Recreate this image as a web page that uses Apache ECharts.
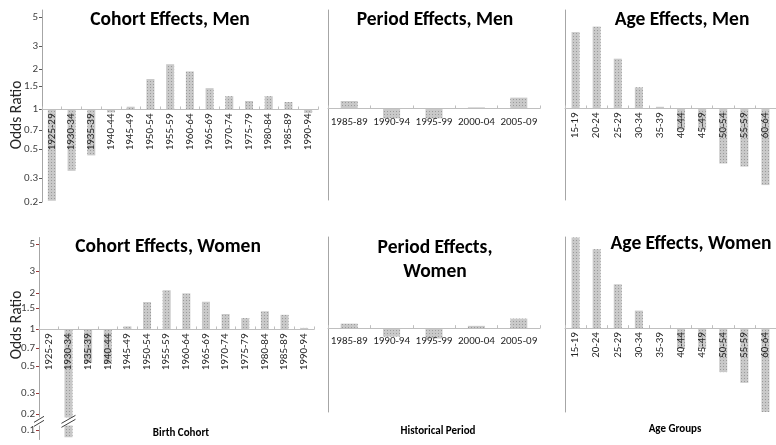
<!DOCTYPE html>
<html>
<head>
<meta charset="utf-8">
<script src="https://cdn.jsdelivr.net/npm/echarts@6/dist/echarts.min.js"></script>
<style>
  html, body { margin: 0; padding: 0; background: #ffffff; }
  #chart { width: 776px; height: 445px; }
</style>
</head>
<body>
<div id="chart"></div>
<script>
// Odds ratios by birth cohort, historical period and age group
const cohortGroups = ['1925-29', '1930-34', '1935-39', '1940-44', '1945-49', '1950-54', '1955-59',
  '1960-64', '1965-69', '1970-74', '1975-79', '1980-84', '1985-89', '1990-94'];
const cohortMen = [0.204, 0.344, 0.45, 0.95, 1.05, 1.70, 2.20, 1.94, 1.45, 1.26, 1.16, 1.26, 1.14, 0.94];
const cohortWomen = [0.99, 0.088, 0.53, 0.52, 1.06, 1.68, 2.10, 1.98, 1.69, 1.34, 1.24, 1.41, 1.32, 1.03];

const periodGroups = ['1985-89', '1990-94', '1995-99', '2000-04', '2005-09'];
const periodMen = [1.14, 0.84, 0.84, 1.02, 1.21];
const periodWomen = [1.09, 0.85, 0.82, 1.045, 1.20];

const ageGroups = ['15-19', '20-24', '25-29', '30-34', '35-39', '40-44', '45-49', '50-54', '55-59', '60-64'];
const ageMen = [3.83, 4.22, 2.40, 1.45, 1.03, 0.69, 0.69, 0.38, 0.36, 0.26];
const ageWomen = [5.7, 4.55, 2.32, 1.40, 1.0, 0.67, 0.67, 0.43, 0.35, 0.20];

const oddsTicksMen = [0.2, 0.3, 0.5, 0.7, 1, 1.5, 2, 3, 5];
const oddsTicksWomen = [0.1, 0.2, 0.3, 0.5, 0.7, 1, 1.5, 2, 3, 5];

const FONT = "Carlito, 'Liberation Sans Narrow', sans-serif";
const lg = v => Math.log10(v);

// bars sit on an odds ratio of 1 (log 0) and rise or hang on a log scale
const panels = [
  { grid: { left: 42, top: 10, width: 276, height: 192 }, cats: cohortGroups, vals: cohortMen,
    range: [0.2, 5.65], ticks: oddsTicksMen, tickColor: '#595959', barWidth: 8, rotate: 90 },
  { grid: { left: 328, top: 10, width: 212, height: 190 }, cats: periodGroups, vals: periodMen,
    range: [0.2, 5.65], barWidth: 17, rotate: 0 },
  { grid: { left: 565, top: 10, width: 211, height: 190 }, cats: ageGroups, vals: ageMen,
    range: [0.2, 5.65], barWidth: 8, rotate: 90 },
  { grid: { left: 39, top: 237, width: 275, height: 202 }, cats: cohortGroups, vals: cohortWomen,
    range: [0.085, 5.75], ticks: oddsTicksWomen, tickColor: '#9b3a3a', barWidth: 8, rotate: 90,
    cut: [0.11, 0.19] },
  { grid: { left: 328, top: 237, width: 212, height: 175 }, cats: periodGroups, vals: periodWomen,
    range: [0.2, 5.75], barWidth: 17, rotate: 0 },
  { grid: { left: 565, top: 237, width: 211, height: 175 }, cats: ageGroups, vals: ageWomen,
    range: [0.2, 5.75], barWidth: 8, rotate: 90 }
];

const barStyle = {
  color: '#c9c9c9',
  decal: { symbol: 'rect', symbolSize: 1, color: '#9a9a9a', dashArrayX: [1, 2], dashArrayY: [1, 2] }
};

const grids = [], xAxes = [], yAxes = [], series = [];
panels.forEach((p, i) => {
  grids.push(Object.assign({ outerBoundsMode: 'none', containLabel: false }, p.grid));
  xAxes.push({
    type: 'category', gridIndex: i, data: p.cats, z: 5, position: 'bottom',
    axisLine: { onZero: false, lineStyle: { color: '#bfbfbf', width: 1 } },
    axisTick: { show: true, inside: true, length: 3, lineStyle: { color: '#bfbfbf' } },
    axisLabel: {
      rotate: p.rotate, margin: p.rotate ? 4 : 8, interval: 0,
      fontFamily: FONT, fontSize: 11, color: '#262626'
    },
    splitLine: { show: false }
  });
  const y = {
    type: 'value', gridIndex: i, min: lg(p.range[0]), max: lg(p.range[1]),
    splitLine: { show: false },
    axisLine: { show: true, onZero: false, lineStyle: { color: '#a6a6a6', width: 1 } },
    axisTick: { show: false },
    axisLabel: { show: false }
  };
  if (p.ticks) {
    const tv = p.ticks.map(lg);
    y.axisTick = { show: true, customValues: tv, length: 3, lineStyle: { color: p.tickColor } };
    y.axisLabel = {
      show: true, customValues: tv, margin: 4,
      fontFamily: FONT, fontSize: 11, color: '#404040',
      formatter: v => String(+Math.pow(10, v).toPrecision(2))
    };
  }
  if (p.cut) {
    y.breaks = [{ start: lg(p.cut[0]), end: lg(p.cut[1]), gap: '4%' }];
    y.breakArea = {
      show: true, zigzagAmplitude: 0, expandOnClick: false,
      itemStyle: { color: '#ffffff', borderWidth: 0, opacity: 1 }
    };
  }
  yAxes.push(y);
  series.push({
    type: 'bar', xAxisIndex: i, yAxisIndex: i, silent: true,
    barWidth: p.barWidth, data: p.vals.map(lg), itemStyle: barStyle
  });
});

const titleText = { fontFamily: FONT, fontWeight: 'bold', fontSize: 19.5, color: '#000000' };
const axisNameText = { fontFamily: FONT, fontWeight: 'bold', fontSize: 11, color: '#000000' };
const headings = [
  ['Cohort Effects, Men', 170, 20, titleText],
  ['Period Effects, Men', 435, 20, titleText],
  ['Age Effects, Men', 682, 20, titleText],
  ['Cohort Effects, Women', 168, 247, titleText],
  ['Period Effects,\nWomen', 435, 260, Object.assign({ lineHeight: 24 }, titleText)],
  ['Age Effects, Women', 691, 244, titleText],
  ['Birth Cohort', 181, 433, axisNameText],
  ['Historical Period', 438, 431, axisNameText],
  ['Age Groups', 675, 429, axisNameText]
];

const chart = echarts.init(document.getElementById('chart'), null, { renderer: 'canvas' });
chart.setOption({
  animation: false,
  backgroundColor: '#ffffff',
  title: headings.map(h => ({
    text: h[0], left: h[1], top: h[2], padding: 0,
    textAlign: 'center', textVerticalAlign: 'middle', textStyle: h[3]
  })),
  grid: grids,
  xAxis: xAxes,
  yAxis: yAxes,
  series: series
});

// lift each category axis up to the odds ratio of 1
chart.setOption({
  xAxis: panels.map((p, i) => ({
    offset: chart.convertToPixel({ yAxisIndex: i }, 0) - (p.grid.top + p.grid.height)
  }))
});

// break marks on the cut axis and on the bar that runs through the cut
const cutPanel = panels[3];
const yA = chart.convertToPixel({ yAxisIndex: 3 }, lg(cutPanel.cut[1]));
const yB = chart.convertToPixel({ yAxisIndex: 3 }, lg(cutPanel.cut[0]));
const yMid = (yA + yB) / 2;
const cutIdx = cohortWomen.findIndex(v => v < cutPanel.cut[0]);
const xBar = chart.convertToPixel({ xAxisIndex: 3 }, cohortGroups[cutIdx]);
const slash = (cx, cy, half, rise) => [-2, 2].map(d => ({
  type: 'line', z: 100,
  shape: { x1: cx - half, y1: cy + d + rise, x2: cx + half, y2: cy + d - rise },
  style: { stroke: '#404040', lineWidth: 1 }
}));
const oddsName = y => ({
  type: 'text', x: 17, y: y, rotation: Math.PI / 2,
  style: { text: 'Odds Ratio', align: 'center', verticalAlign: 'middle',
    font: '15.5px Carlito, sans-serif', fill: '#262626' }
});
chart.setOption({
  graphic: [oddsName(115), oddsName(325)]
    .concat(slash(cutPanel.grid.left, yMid, 5, 3), slash(xBar, yMid, 7, 4))
});
</script>
</body>
</html>
